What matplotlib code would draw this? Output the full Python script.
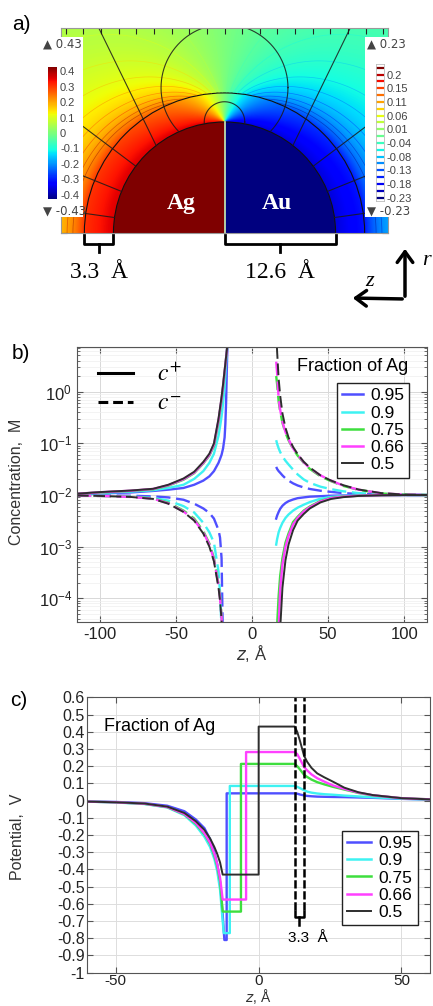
import numpy as np
import matplotlib
matplotlib.use("Agg")
import matplotlib.pyplot as plt
from matplotlib.colors import Normalize
from matplotlib.cm import ScalarMappable
from matplotlib.lines import Line2D
from matplotlib.patches import Rectangle, Circle, FancyArrowPatch

plt.rcParams['font.family'] = ['Liberation Sans', 'DejaVu Sans']
plt.rcParams['axes.unicode_minus'] = False

# ---------------- panel a : Ag/Au particle (lengths in Angstrom, potential in V)
R_PARTICLE = 12.6
STERN = 3.3
PHI_AG = 0.43
PHI_AU = -0.43
FIELD_MAX = 0.43
CONTOUR_MAX = 0.23
N_CONTOURS = 20
left_cbar_ticks = [0.4, 0.3, 0.2, 0.1, 0, -0.1, -0.2, -0.3, -0.4]
left_cbar_labels = ['0.4', '0.3', '0.2', '0.1', '0', '-0.1', '-0.2', '-0.3', '-0.4']
right_cbar_labels = ['-0.23', '-0.18', '-0.13', '-0.08', '-0.04',
                     '0.01', '0.06', '0.11', '0.15', '0.2']
# geometry edges drawn over the field (angles in degrees from the z axis)
radial_edge_angles = [8, 22, 37]
slant_edge_angle, slant_edge_tilt = 52, 64
loop_center_y, loop_radius = 16.5, 7.2
junction_arc_radius = 2.3

# ---------------- panel b : concentrations (M)
fractions = ['0.95', '0.9', '0.75', '0.66', '0.5']
colors = ['#4f4fff', '#3ef2f2', '#3ede3e', '#ff40ff', '#2e2e2e']
z_left = [-115, -100, -80, -65, -55, -45, -38, -32, -28, -25, -22, -21, -20, -19, -18, -17.5, -17, -16.5, -16]
cplus_left = [
    [0.0103, 0.0107, 0.0112, 0.0120, 0.0127, 0.0137, 0.0158, 0.019, 0.023, 0.029, 0.042, 0.050, 0.060, 0.080, 0.13, 0.24, 0.65, 3.0, 12],
    [0.0104, 0.0110, 0.0116, 0.0124, 0.0137, 0.0158, 0.0205, 0.029, 0.042, 0.063, 0.14, 0.21, 0.33, 0.60, 1.25, 2.1, 3.6, 6.0, 9.5],
    [0.0106, 0.0112, 0.0120, 0.0129, 0.0152, 0.0198, 0.0265, 0.041, 0.058, 0.089, 0.26, 0.42, 0.68, 1.2, 2.3, 3.2, 4.5, 6.3, 8.6],
    [0.0106, 0.0113, 0.0121, 0.0131, 0.0155, 0.0203, 0.0272, 0.042, 0.060, 0.094, 0.28, 0.45, 0.73, 1.3, 2.4, 3.3, 4.6, 6.4, 8.7],
    [0.0106, 0.0114, 0.0122, 0.0132, 0.0158, 0.0209, 0.0282, 0.0437, 0.0631, 0.100, 0.302, 0.49, 0.79, 1.4, 2.6, 3.5, 4.8, 6.5, 8.9],
]
cminus_left = [
    [0.0099, 0.0098, 0.0097, 0.0094, 0.0090, 0.0081, 0.0068, 0.0055, 0.0045, 0.0035, 0.0021, 0.0015, 6e-4, 1e-5, 1e-6, 3e-7, 1e-7, 3e-8, 1e-8],
    [0.0098, 0.0097, 0.0094, 0.0088, 0.0078, 0.0061, 0.0046, 0.0029, 0.0019, 0.0012, 3.3e-4, 1.3e-4, 2.5e-5, 4e-6, 1e-6, 3e-7, 1e-7, 3e-8, 1e-8],
    [0.0098, 0.0096, 0.0093, 0.0086, 0.0071, 0.0050, 0.0035, 0.0020, 0.00115, 6e-4, 1.9e-4, 1.1e-4, 4.5e-5, 1.4e-5, 3e-6, 1.2e-6, 5e-7, 2e-7, 1e-7],
    [0.0098, 0.0096, 0.0092, 0.0085, 0.0069, 0.0048, 0.0033, 0.0019, 0.0011, 5.6e-4, 1.8e-4, 1.0e-4, 4.2e-5, 1.3e-5, 3e-6, 1.2e-6, 5e-7, 2e-7, 1e-7],
    [0.0098, 0.0096, 0.0092, 0.0084, 0.0068, 0.0047, 0.0032, 0.0018, 0.0010, 5.2e-4, 1.6e-4, 9e-5, 3.8e-5, 1.2e-5, 3e-6, 1.2e-6, 5e-7, 2e-7, 1e-7],
]
z_right = [15.9, 16.5, 17.5, 18.5, 20, 22, 24, 27, 30, 34, 38, 45, 52, 60, 70, 85, 100, 115]
cplus_right = [
    [0.0035, 0.0040, 0.0047, 0.0054, 0.0062, 0.0070, 0.0076, 0.0082, 0.0087, 0.0090, 0.0093, 0.0095, 0.0097, 0.0098, 0.0099, 0.0100, 0.0100, 0.0100],
    [0.0011, 0.0014, 0.0019, 0.0023, 0.0029, 0.0036, 0.0042, 0.0050, 0.0057, 0.0065, 0.0073, 0.0085, 0.0092, 0.0096, 0.0098, 0.0100, 0.0100, 0.0100],
    [8e-6, 3e-5, 1.1e-4, 2.7e-4, 6e-4, 0.0012, 0.0018, 0.0030, 0.0038, 0.0050, 0.0060, 0.0077, 0.0088, 0.0094, 0.0097, 0.0099, 0.0100, 0.0100],
    [3e-6, 1e-5, 2.5e-5, 1.5e-4, 4.5e-4, 0.0010, 0.0016, 0.0027, 0.0036, 0.0048, 0.0058, 0.0075, 0.0087, 0.0093, 0.0097, 0.0099, 0.0100, 0.0100],
    [1e-7, 3e-7, 3e-6, 2.5e-5, 1.6e-4, 5.5e-4, 0.0011, 0.0021, 0.0032, 0.0043, 0.0055, 0.0072, 0.0084, 0.0091, 0.0096, 0.0099, 0.0100, 0.0100],
]
cminus_right = [
    [0.035, 0.032, 0.029, 0.027, 0.024, 0.021, 0.019, 0.0168, 0.0153, 0.0140, 0.0131, 0.0121, 0.0115, 0.0109, 0.0105, 0.0102, 0.0100, 0.0100],
    [0.115, 0.098, 0.080, 0.068, 0.056, 0.046, 0.039, 0.031, 0.025, 0.020, 0.0172, 0.0145, 0.013, 0.0118, 0.0109, 0.0103, 0.0101, 0.0100],
    [2.0, 1.4, 0.65, 0.42, 0.25, 0.16, 0.115, 0.078, 0.058, 0.042, 0.032, 0.023, 0.0185, 0.015, 0.0126, 0.0107, 0.0102, 0.0100],
    [3.8, 2.3, 0.75, 0.45, 0.26, 0.165, 0.12, 0.080, 0.060, 0.043, 0.033, 0.024, 0.019, 0.0152, 0.0127, 0.0108, 0.0102, 0.0100],
    [15, 6.0, 1.8, 0.85, 0.38, 0.20, 0.13, 0.085, 0.062, 0.044, 0.034, 0.024, 0.019, 0.0155, 0.0128, 0.0109, 0.0102, 0.0100],
]

# ---------------- panel c : potential (V)
zc_left = [-60, -50, -40, -32, -26, -22, -19, -17, -15.5, -14.5, -13.5, -12.6]
phi_left = [
    [-0.005, -0.008, -0.015, -0.030, -0.062, -0.11, -0.16, -0.225, -0.30, -0.37, -0.48, -0.66],
    [-0.006, -0.011, -0.020, -0.040, -0.085, -0.145, -0.21, -0.27, -0.34, -0.41, -0.52, -0.70],
    [-0.006, -0.010, -0.019, -0.038, -0.080, -0.135, -0.195, -0.25, -0.32, -0.38, -0.47, -0.645],
    [-0.006, -0.010, -0.018, -0.037, -0.078, -0.13, -0.19, -0.245, -0.31, -0.37, -0.45, -0.575],
    [-0.006, -0.010, -0.017, -0.035, -0.072, -0.12, -0.17, -0.22, -0.27, -0.31, -0.36, -0.43],
]
phi_min = [-0.81, -0.77, -0.645, -0.575, -0.43]
z_min = [-12.0, -12.2, -12.6, -12.6, -12.6]
z_jump = [-11.2, -10.1, -6.2, -4.4, 0.0]
phi_plateau = [0.042, 0.085, 0.213, 0.282, 0.43]
zc_right = [12.6, 13.5, 14.5, 15.9, 17, 18.5, 20.5, 23, 26, 30, 35, 40, 50, 60]
phi_right = [
    [0.042, 0.040, 0.035, 0.030, 0.027, 0.025, 0.023, 0.022, 0.021, 0.020, 0.018, 0.016, 0.010, 0.006],
    [0.085, 0.080, 0.072, 0.060, 0.052, 0.046, 0.041, 0.037, 0.034, 0.029, 0.024, 0.019, 0.011, 0.006],
    [0.213, 0.200, 0.180, 0.150, 0.137, 0.122, 0.107, 0.094, 0.080, 0.064, 0.044, 0.030, 0.014, 0.007],
    [0.282, 0.270, 0.240, 0.195, 0.175, 0.152, 0.130, 0.110, 0.088, 0.068, 0.046, 0.031, 0.014, 0.007],
    [0.43, 0.40, 0.345, 0.26, 0.225, 0.19, 0.158, 0.135, 0.110, 0.075, 0.048, 0.032, 0.014, 0.007],
]
yc_ticks = [-1, -0.9, -0.8, -0.7, -0.6, -0.5, -0.4, -0.3, -0.2, -0.1, 0, 0.1, 0.2, 0.3, 0.4, 0.5, 0.6]
yc_labels = ['-1', '-0.9', '-0.8', '-0.7', '-0.6', '-0.5', '-0.4', '-0.3', '-0.2', '-0.1',
             '0', '0.1', '0.2', '0.3', '0.4', '0.5', '0.6']

W, H = 433, 1006
fig = plt.figure(figsize=(W / 100, H / 100), dpi=100)


def px_axes(x0, y0, x1, y1):
    return fig.add_axes([x0 / W, 1 - y1 / H, (x1 - x0) / W, (y1 - y0) / H])


def fx(x):
    return x / W


def fy(y):
    return 1 - y / H


# ======================= panel a =======================
R_OUT = R_PARTICLE + STERN


def potential(x, y):
    # simple screened model: 2D Laplace solution outside the particle,
    # flat factor across the Stern layer, two-scale screening beyond it
    x = np.asarray(x, float)
    y = np.asarray(y, float)
    r = np.hypot(x, y)
    with np.errstate(all='ignore'):
        zeta = R_PARTICLE / (-x + 1j * y)
        lap = 4 * PHI_AG / np.pi * np.real(np.arctan(zeta))
    d = r - R_OUT
    damp = np.where(r < R_OUT, 0.84,
                    0.84 * (0.3 * np.exp(-d / 1.5) + 0.7 * np.exp(-d / 25.0)))
    inside = np.where(x < 0, PHI_AG, PHI_AU)
    return np.where(r < R_PARTICLE, inside, lap * damp)


def outside_only(x, y):
    keep = np.hypot(x, y) >= R_PARTICLE
    return np.where(keep, x, np.nan), np.where(keep, y, np.nan)


XMAX = 18.55
YMAX = 23.27
ax_a = px_axes(61, 28, 388, 233)
xs = np.linspace(-XMAX, XMAX, 740)
ys = np.linspace(0, YMAX, 465)
XX, YY = np.meshgrid(xs, ys)
phi = potential(XX, YY)
ax_a.imshow(phi, origin='lower', extent=(-XMAX, XMAX, 0, YMAX), cmap='jet',
            vmin=-FIELD_MAX, vmax=FIELD_MAX, interpolation='bilinear', aspect='auto')
levels = np.linspace(-CONTOUR_MAX, CONTOUR_MAX, N_CONTOURS)
phi_c = np.where(np.hypot(XX, YY) > R_OUT, phi, np.nan)
ax_a.contour(xs, ys, phi_c, levels=levels, cmap='jet',
             norm=Normalize(-CONTOUR_MAX, CONTOUR_MAX), linewidths=0.5, alpha=0.45)
for rad in (R_PARTICLE, R_OUT):
    ax_a.add_patch(Circle((0, 0), rad, fill=False, ec='#111111', lw=0.8))
ax_a.plot([0, 0], [0, R_PARTICLE], color='#cfeeb0', lw=1.2)

edge_kw = dict(color='#1a1a1a', lw=0.8, alpha=0.85)
rr = np.linspace(R_PARTICLE, 40, 50)
for ang in radial_edge_angles:
    t = np.radians(ang)
    for side in (-1, 1):
        ax_a.plot(side * rr * np.cos(t), rr * np.sin(t), **edge_kw)
t0, tilt = np.radians(slant_edge_angle), np.radians(slant_edge_tilt)
ss = np.linspace(0, 30, 20)
for side in (-1, 1):
    ax_a.plot(side * (R_PARTICLE * np.cos(t0) + ss * np.cos(tilt)),
              R_PARTICLE * np.sin(t0) + ss * np.sin(tilt), **edge_kw)
tt = np.linspace(0, 2 * np.pi, 400)
for cy, rad in ((loop_center_y, loop_radius), (R_PARTICLE, junction_arc_radius)):
    ax_a.plot(*outside_only(rad * np.cos(tt), cy + rad * np.sin(tt)), **edge_kw)

ax_a.set_xlim(-XMAX, XMAX)
ax_a.set_ylim(0, YMAX)
ax_a.set_xticks(np.arange(-18, 19, 2))
ax_a.set_yticks(np.arange(0, 23, 2))
ax_a.tick_params(direction='in', top=True, bottom=False, left=True, right=True,
                 labelbottom=False, labelleft=False, length=4, width=0.8, color='#222222')
for s in ax_a.spines.values():
    s.set_color('#999999')
    s.set_linewidth(0.8)
ax_a.text(-4.9, 3.4, 'Ag', color='white', fontsize=17, fontweight='bold',
          family='Liberation Serif', ha='center', va='center')
ax_a.text(6.0, 3.4, 'Au', color='white', fontsize=17, fontweight='bold',
          family='Liberation Serif', ha='center', va='center')

# brackets under the particle
for x0, x1 in ((-R_OUT, -R_PARTICLE), (0, R_PARTICLE)):
    ax_a.plot([x0, x0, x1, x1], [-0.25, -1.3, -1.3, -0.25], color='k', lw=2,
              clip_on=False, solid_joinstyle='round')
    ax_a.plot([(x0 + x1) / 2] * 2, [-1.3, -2.1], color='k', lw=2, clip_on=False)
ax_a.text(-(R_OUT + R_PARTICLE) / 2, -4.45, '3.3  Å', fontsize=17, family='Liberation Serif',
          ha='center', va='center', clip_on=False)
ax_a.text(R_PARTICLE / 2, -4.45, '12.6  Å', fontsize=17, family='Liberation Serif',
          ha='center', va='center', clip_on=False)

# colour legend boxes
fig.add_artist(Rectangle((fx(40), fy(217)), 43 / W, 180 / H, transform=fig.transFigure,
                         facecolor='white', edgecolor='none', zorder=2))
fig.add_artist(Rectangle((fx(365), fy(217)), 52 / W, 180 / H, transform=fig.transFigure,
                         facecolor='white', edgecolor='none', zorder=2))

cax_l = px_axes(47.7, 66.7, 57.3, 199.3)
cax_l.set_zorder(3)
cb = fig.colorbar(ScalarMappable(Normalize(-FIELD_MAX, FIELD_MAX), 'jet'), cax=cax_l)
cb.set_ticks(left_cbar_ticks)
cb.set_ticklabels(left_cbar_labels)
cb.outline.set_visible(False)
cax_l.tick_params(length=0, labelsize=8, labelcolor='#444444', pad=2)

cax_r = px_axes(375.7, 64.3, 384, 201)
cax_r.set_zorder(3)
cnorm = Normalize(-CONTOUR_MAX, CONTOUR_MAX)
for lev in levels:
    cax_r.axhline(lev, color=plt.get_cmap('jet')(cnorm(lev)), lw=1.6)
cax_r.set_ylim(-CONTOUR_MAX - 0.012, CONTOUR_MAX + 0.012)
cax_r.set_xlim(0, 1)
cax_r.set_xticks([])
cax_r.set_yticks(levels[::2])
cax_r.set_yticklabels(right_cbar_labels)
cax_r.yaxis.tick_right()
cax_r.tick_params(length=0, labelsize=8, labelcolor='#444444', pad=2)
for s in cax_r.spines.values():
    s.set_color('#bbbbbb')
    s.set_linewidth(0.6)

for x, y, s in ((43, 44, '▲ 0.43'), (43, 211, '▼ -0.43'), (367, 44, '▲ 0.23'), (367, 211, '▼ -0.23')):
    fig.text(fx(x), fy(y), s, fontsize=8.5, color='#444444', ha='left', va='center', zorder=4,
             family='DejaVu Sans')

# r / z direction arrows
for end in ((405, 246), (350, 298)):
    fig.add_artist(FancyArrowPatch((fx(405), fy(299)), (fx(end[0]), fy(end[1])),
                                   transform=fig.transFigure, arrowstyle='->,head_length=0.55,head_width=0.4',
                                   mutation_scale=14, lw=2.5, color='k'))
fig.text(fx(370), fy(281), 'z', fontsize=16, style='italic', family='Liberation Serif',
         ha='center', va='center')
fig.text(fx(426), fy(261), 'r', fontsize=16, style='italic', family='Liberation Serif',
         ha='center', va='center')

fig.text(fx(21), fy(24), 'a)', fontsize=15, ha='center', va='center')
fig.text(fx(21), fy(354), 'b)', fontsize=15, ha='center', va='center')
fig.text(fx(19), fy(701), 'c)', fontsize=15, ha='center', va='center')

# ======================= panel b =======================
ax_b = px_axes(77, 347, 427, 622)
ax_b.set_yscale('log')
dash = (6.0, 2.4)
for i, frac in enumerate(fractions):
    lw = 1.4 if frac == '0.5' else 1.7
    ax_b.plot(z_left, cplus_left[i], color=colors[i], lw=lw)
    ax_b.plot(z_right, cplus_right[i], color=colors[i], lw=lw)
    ax_b.plot(z_left, cminus_left[i], color=colors[i], lw=lw, dashes=dash)
    ax_b.plot(z_right, cminus_right[i], color=colors[i], lw=lw, dashes=dash)
ax_b.set_xlim(-115, 115)
ax_b.set_ylim(3.5e-5, 7.3)
ax_b.set_xticks([-100, -50, 0, 50, 100])
ax_b.xaxis.set_minor_locator(matplotlib.ticker.NullLocator())
ax_b.yaxis.set_minor_locator(matplotlib.ticker.LogLocator(subs=np.arange(2, 10), numticks=20))
ax_b.grid(True, which='major', color='#d8d8d8', lw=0.7)
ax_b.grid(True, which='minor', axis='y', color='#eeeeee', lw=0.5)
ax_b.tick_params(which='both', direction='in', top=True, right=True, labelsize=12,
                 labelcolor='#222222', color='#555555')
ax_b.tick_params(which='major', length=4)
ax_b.tick_params(which='minor', length=2.5)
for s in ax_b.spines.values():
    s.set_color('#555555')

leg_pm = ax_b.legend([Line2D([], [], color='k', lw=2.2), Line2D([], [], color='k', lw=2.2, dashes=(3.2, 1.6))],
                     ['$c^{+}$', '$c^{-}$'], loc='upper left', bbox_to_anchor=(0.06, 0.94),
                     frameon=False, fontsize=17, handlelength=1.5, handletextpad=1.0,
                     labelspacing=0.3, borderpad=0, borderaxespad=0)
for t in leg_pm.get_texts():
    t.set_math_fontfamily('stix')
ax_b.add_artist(leg_pm)
handles = [Line2D([], [], color=c, lw=1.8 if f != '0.5' else 1.4) for c, f in zip(colors, fractions)]
leg_b = ax_b.legend(handles, fractions, loc='upper left', bbox_to_anchor=(0.743, 0.869),
                    borderaxespad=0, fancybox=False, fontsize=12.5, handlelength=1.2,
                    handletextpad=0.4, labelspacing=0.12, borderpad=0.3, framealpha=1)
leg_b.get_frame().set_edgecolor('#222222')
leg_b.get_frame().set_linewidth(1.0)
ax_b.text(0.629, 0.928, 'Fraction of Ag', transform=ax_b.transAxes, fontsize=13,
          ha='left', va='center')
fig.text(fx(17), fy(482), 'Concentration,  M', rotation=90, fontsize=11.5, color='#333333',
         ha='center', va='center')
fig.text(fx(252), fy(653), '$z$, Å', fontsize=12, color='#333333', ha='center', va='center')

# ======================= panel c =======================
ax_c = px_axes(87.3, 697.3, 430, 972.7)
for i, frac in enumerate(fractions):
    zz = zc_left + [z_min[i], z_jump[i], z_jump[i]] + zc_right
    pp = phi_left[i] + [phi_min[i], phi_min[i], phi_plateau[i]] + phi_right[i]
    ax_c.plot(zz, pp, color=colors[i], lw=1.4 if frac == '0.5' else 1.7)
for zl in (R_PARTICLE, R_OUT):
    ax_c.plot([zl, zl], [-0.635, 0.6], color='k', lw=1.8, dashes=(3.3, 1.1), clip_on=False)
ax_c.plot([R_PARTICLE, R_PARTICLE, R_OUT, R_OUT], [-0.64, -0.675, -0.675, -0.64], color='k', lw=1.8)
ax_c.plot([(R_PARTICLE + R_OUT) / 2] * 2, [-0.675, -0.72], color='k', lw=1.8)
ax_c.text(17.2, -0.80, '3.3  Å', fontsize=11, ha='center', va='center')
ax_c.text(-54.3, 0.43, 'Fraction of Ag', fontsize=13, ha='left', va='center')
ax_c.set_xlim(-60, 60)
ax_c.set_ylim(-1, 0.6)
ax_c.set_xticks([-50, 0, 50])
ax_c.set_yticks(yc_ticks)
ax_c.set_yticklabels(yc_labels)
ax_c.grid(True, color='#dddddd', lw=0.7)
ax_c.tick_params(direction='in', top=True, right=True, length=4, color='#555555',
                 labelcolor='#222222')
ax_c.tick_params(axis='y', labelsize=11.5, pad=2)
ax_c.tick_params(axis='x', labelsize=11, pad=1)
for s in ax_c.spines.values():
    s.set_color('#555555')
leg_c = ax_c.legend(handles, fractions, loc='upper left', bbox_to_anchor=(0.743, 0.5156),
                    borderaxespad=0, fancybox=False, fontsize=12.5, handlelength=1.4,
                    handletextpad=0.4, labelspacing=0.12, borderpad=0.3, framealpha=1)
leg_c.get_frame().set_edgecolor('#222222')
leg_c.get_frame().set_linewidth(1.0)
fig.text(fx(18), fy(837), 'Potential,  V', rotation=90, fontsize=11.5, color='#333333',
         ha='center', va='center')
fig.text(fx(258), fy(1005.5), '$z$, Å', fontsize=10, color='#333333', ha='center', va='bottom')

fig.savefig('out.png', dpi=100)
